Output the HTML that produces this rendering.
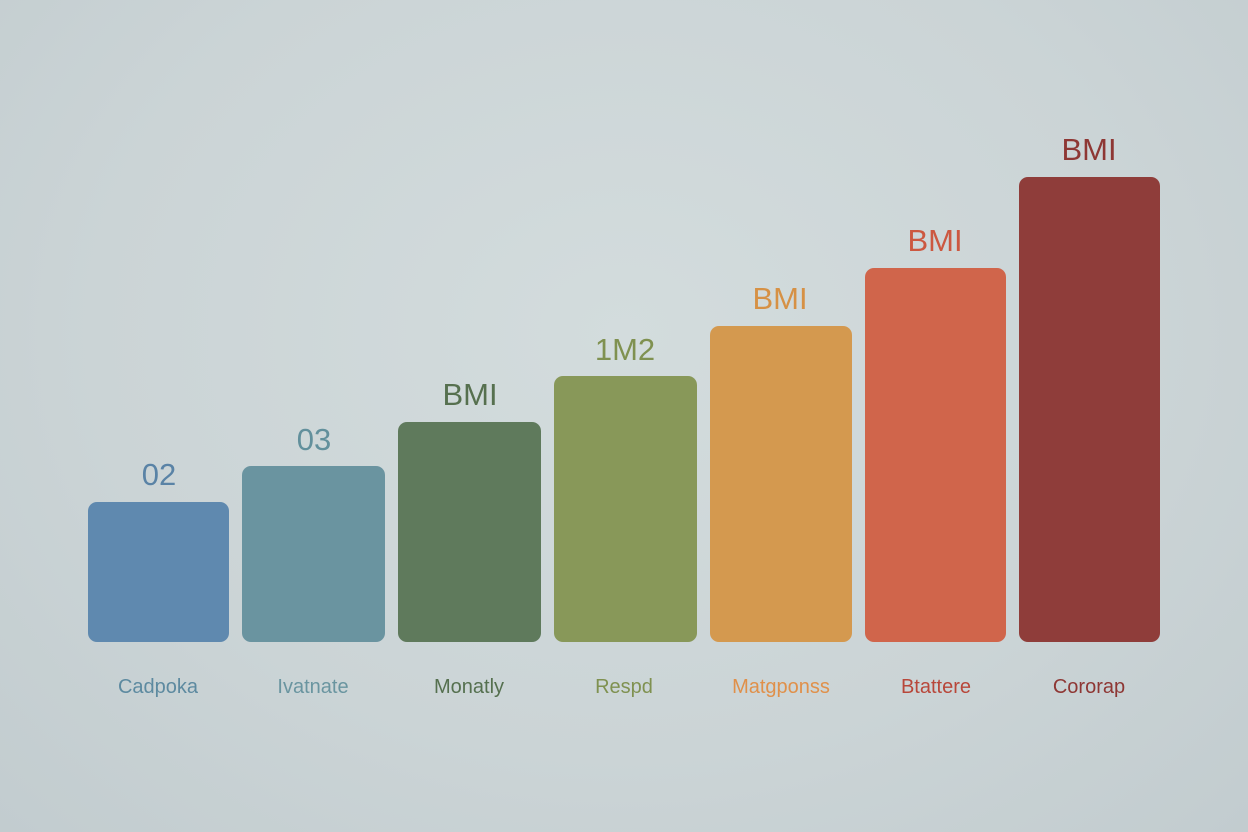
<!DOCTYPE html>
<html><head><meta charset="utf-8"><style>
html,body{margin:0;padding:0}
body{width:1248px;height:832px;overflow:hidden;position:relative;
background:radial-gradient(ellipse at 50% 40%,#d3dcdd 0%,#cbd4d6 60%,#c2cccf 100%);
font-family:"Liberation Sans",sans-serif}
.b{position:absolute;bottom:190px;border-radius:9px}
.v{position:absolute;font-size:31px;text-align:center;width:160px;transform:translateX(-50%)}
.c{position:absolute;top:676px;font-size:20px;text-align:center;width:180px;transform:translateX(-50%)}
</style></head><body>
<div class="b" style="left:88px;width:141px;top:502px;background:#5f89af"></div>
<div class="b" style="left:242px;width:143px;top:466px;background:#6a94a0"></div>
<div class="b" style="left:398px;width:143px;top:422px;background:#5f7a5c"></div>
<div class="b" style="left:554px;width:143px;top:376px;background:#889859"></div>
<div class="b" style="left:710px;width:142px;top:326px;background:#d4994f"></div>
<div class="b" style="left:865px;width:141px;top:268px;background:#d0654b"></div>
<div class="b" style="left:1019px;width:141px;top:177px;background:#8f3d3a"></div>

<div class="v" style="left:159px;top:457px;color:#5a83a6">02</div>
<div class="v" style="left:314px;top:422px;color:#62909c">03</div>
<div class="v" style="left:470px;top:377px;color:#56704f">BMI</div>
<div class="v" style="left:625px;top:332px;color:#7f9150">1M2</div>
<div class="v" style="left:780px;top:281px;color:#d69145">BMI</div>
<div class="v" style="left:935px;top:223px;color:#cc5840">BMI</div>
<div class="v" style="left:1089px;top:132px;color:#8e3734">BMI</div>

<div class="c" style="left:158px;color:#5d8aa0">Cadpoka</div>
<div class="c" style="left:313px;color:#6a95a0">Ivatnate</div>
<div class="c" style="left:469px;color:#55704f">Monatly</div>
<div class="c" style="left:624px;color:#7f9150">Respd</div>
<div class="c" style="left:781px;color:#e0904a">Matgponss</div>
<div class="c" style="left:936px;color:#b8473a">Btattere</div>
<div class="c" style="left:1089px;color:#8e3734">Cororap</div>
</body></html>
